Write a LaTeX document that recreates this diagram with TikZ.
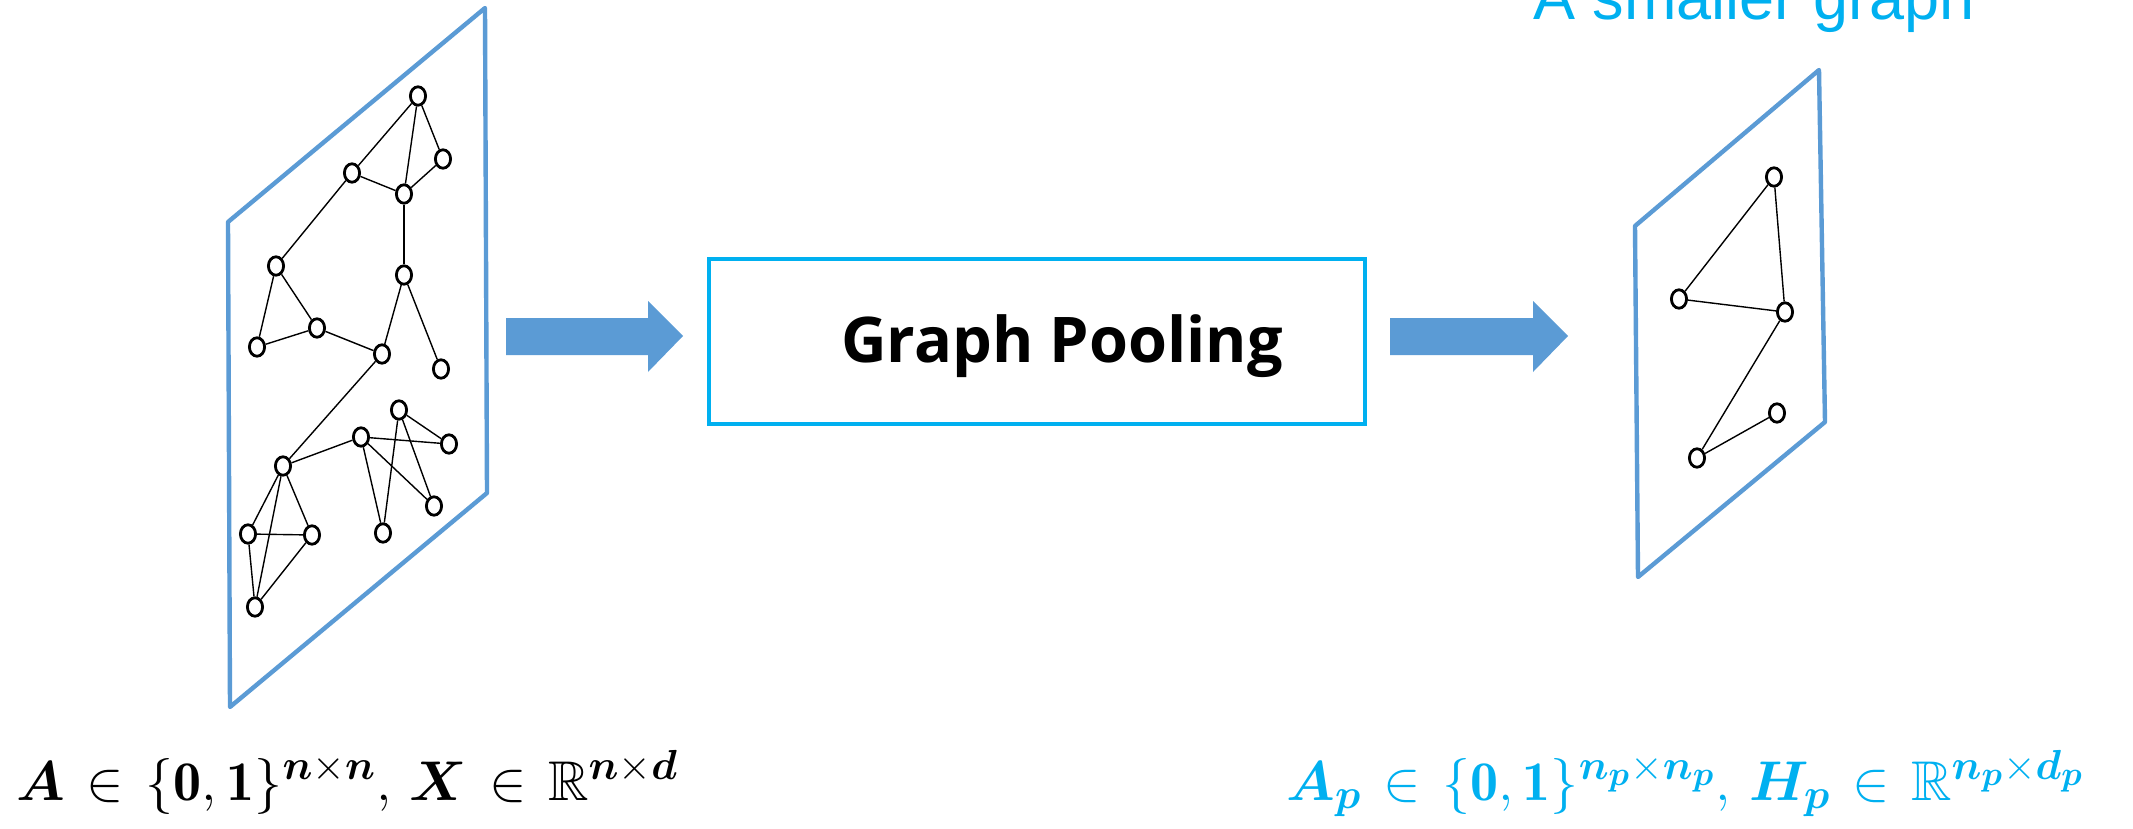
\RequirePackage{fix-cm}
\documentclass[tikz,border=0pt]{standalone}
\usepackage{amsmath,amssymb,bm}
\usepackage{fontspec}
\usetikzlibrary{shapes.geometric}
\DeclareMathSizes{28}{28}{21}{17}
\newfontfamily\gpfont{Open Sans}[BoldFont={Open Sans Bold}]
\newfontfamily\arialfont{Liberation Sans}
\definecolor{panelblue}{HTML}{5B9BD5}
\definecolor{cyanblue}{HTML}{00B0F0}
\tikzset{
  gnode/.style={ellipse, draw=black, line width=1.4pt, fill=white, inner sep=0pt, minimum width=7.6pt, minimum height=9.2pt},
  gedge/.style={black, line width=0.7pt},
  panel/.style={draw=panelblue, line width=2.2pt, line join=round},
  blockarrow/.style={fill=panelblue, draw=none},
  poolbox/.style={draw=cyanblue, line width=2.2pt},
}
\newcommand{\xin}{\mathrel{\mkern2mu\in\mkern2mu}}
\begin{document}
\begin{tikzpicture}[x=0.5pt, y=-0.5pt]
\useasboundingbox (0,0) rectangle (2133,829);
% panels
\draw[panel] (228,222) -- (485,8) -- (487,493) -- (230,707) -- cycle;
\draw[panel] (1635,226) -- (1819,70) -- (1825,422) -- (1638,577) -- cycle;
% left graph nodes
\node[gnode] (n1) at (418,96) {};
\node[gnode] (n2) at (443,159) {};
\node[gnode] (n3) at (352,173) {};
\node[gnode] (n4) at (404,194) {};
\node[gnode] (n5) at (276,266) {};
\node[gnode] (n6) at (404,275) {};
\node[gnode] (n7) at (317,328) {};
\node[gnode] (n8) at (257,347) {};
\node[gnode] (n9) at (382,354) {};
\node[gnode] (n10) at (441,369) {};
\node[gnode] (n11) at (399,410) {};
\node[gnode] (n12) at (361,437) {};
\node[gnode] (n13) at (449,444) {};
\node[gnode] (n14) at (283,466) {};
\node[gnode] (n15) at (434,506) {};
\node[gnode] (n16) at (248,534) {};
\node[gnode] (n17) at (312,535) {};
\node[gnode] (n18) at (383,533) {};
\node[gnode] (n19) at (255,607) {};
\foreach \a/\b in {n1/n3,n1/n4,n1/n2,n2/n4,n3/n4,n4/n6,n3/n5,n5/n8,n5/n7,n8/n7,n7/n9,n6/n9,n6/n10,n9/n14,n14/n12,n12/n13,n11/n13,n11/n15,n12/n15,n12/n18,n11/n18,n14/n16,n14/n17,n14/n19,n16/n17,n16/n19,n17/n19}
  \draw[gedge] (\a) -- (\b);
% right graph nodes
\node[gnode] (r1) at (1774,177) {};
\node[gnode] (r2) at (1679,299) {};
\node[gnode] (r3) at (1785,312) {};
\node[gnode] (r4) at (1777,413) {};
\node[gnode] (r5) at (1697,458) {};
\foreach \a/\b in {r1/r2,r1/r3,r2/r3,r3/r5,r4/r5}
  \draw[gedge] (\a) -- (\b);
% block arrows
\fill[blockarrow] (506,318) -- (648,318) -- (648,301) -- (683,336) -- (648,372) -- (648,355) -- (506,355) -- cycle;
\fill[blockarrow] (1390,318) -- (1533,318) -- (1533,301) -- (1568,336) -- (1533,372) -- (1533,355) -- (1390,355) -- cycle;
% pooling box
\node[poolbox, minimum width=328pt, minimum height=82.5pt, inner sep=0pt] (pool) at (1037,341.5) {};
\node[anchor=base, inner sep=0pt] (pooltext) at (1062,362) {\gpfont\bfseries\fontsize{31.5}{36}\selectfont Graph Pooling};
% top label
\node[anchor=base, inner sep=0pt, text=cyanblue] (toplabel) at (1754,20) {\arialfont\fontsize{31.5}{36}\selectfont A smaller graph};
% math labels
\node[anchor=base west, inner sep=0pt] (leftlabel) at (16,800) {\fontsize{28}{32}\selectfont $\bm{A}\xin\{\mathbf{0},\mathbf{1}\}^{\bm{n}\times\bm{n}},\,\bm{X}\xin\mathbb{R}^{\bm{n}\times\bm{d}}$};
\node[anchor=base west, inner sep=0pt, text=cyanblue] (rightlabel) at (1286,800) {\fontsize{28}{32}\selectfont $\bm{A_p}\xin\{\mathbf{0},\mathbf{1}\}^{\bm{n_p}\times\bm{n_p}},\,\bm{H_p}\xin\mathbb{R}^{\bm{n_p}\times\bm{d_p}}$};
\end{tikzpicture}
\end{document}
